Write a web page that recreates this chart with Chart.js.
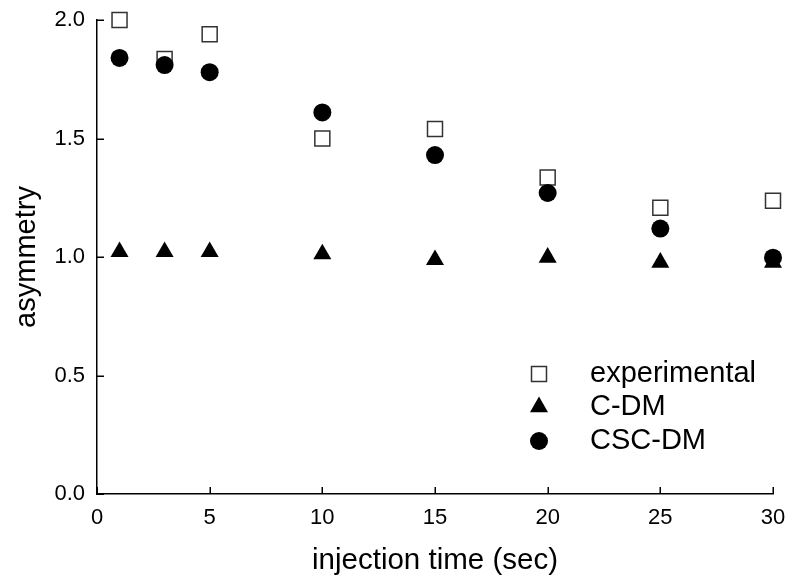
<!DOCTYPE html>
<html>
<head>
<meta charset="utf-8">
<script src="https://cdn.jsdelivr.net/npm/chart.js@4.4.1/dist/chart.umd.min.js"></script>
<style>
html,body{margin:0;padding:0;background:#fff;}
canvas{display:block;}
</style>
</head>
<body>
<canvas id="c" width="787" height="581"></canvas>
<script>
const injectionTimes = [1, 3, 5, 10, 15, 20, 25, 30];
const experimental = [2.00, 1.835, 1.94, 1.50, 1.54, 1.335, 1.208, 1.237];
const cdm = [1.022, 1.022, 1.022, 1.012, 0.988, 0.998, 0.977, 0.977];
const cscdm = [1.84, 1.81, 1.78, 1.61, 1.43, 1.27, 1.12, 0.997];
const xTicks = [0, 5, 10, 15, 20, 25, 30];
const yTicks = [0.0, 0.5, 1.0, 1.5, 2.0];
const seriesNames = ['experimental', 'C-DM', 'CSC-DM'];

const FONT = '"Liberation Sans", Arial, sans-serif';
const toPts = arr => arr.map((v, i) => ({x: injectionTimes[i], y: v}));

const styles = [
  {pointStyle: 'rect', radius: 10.6, bg: '#ffffff', border: '#333333', bw: 1.5},
  {pointStyle: 'triangle', radius: 10.4, bg: '#000000', border: '#000000', bw: 0},
  {pointStyle: 'circle', radius: 9, bg: '#000000', border: '#000000', bw: 0}
];
const seriesData = [experimental, cdm, cscdm];
const orders = [1, 2, 0];

const datasets = seriesData.map((d, i) => ({
  label: seriesNames[i],
  data: toPts(d),
  showLine: false,
  pointStyle: styles[i].pointStyle,
  pointRadius: styles[i].radius,
  pointHoverRadius: styles[i].radius,
  pointBackgroundColor: styles[i].bg,
  pointBorderColor: styles[i].border,
  pointBorderWidth: styles[i].bw,
  clip: false,
  order: orders[i]
}));

const inwardTicks = {
  id: 'inwardTicks',
  afterDraw(chart) {
    const ctx = chart.ctx;
    const xs = chart.scales.x, ys = chart.scales.y;
    const a = chart.chartArea;
    ctx.save();
    ctx.strokeStyle = '#000';
    ctx.lineWidth = 1.5;
    ctx.beginPath();
    yTicks.forEach(v => {
      const py = Math.round(ys.getPixelForValue(v)) + 0.25;
      ctx.moveTo(a.left, py);
      ctx.lineTo(a.left + 7, py);
    });
    xTicks.forEach(v => {
      const px = Math.round(xs.getPixelForValue(v)) + 0.25;
      ctx.moveTo(px, a.bottom);
      ctx.lineTo(px, a.bottom - 7);
    });
    ctx.stroke();
    ctx.restore();
  }
};

const customLegend = {
  id: 'customLegend',
  afterDraw(chart) {
    const ctx = chart.ctx;
    const a = chart.chartArea;
    const markerX = a.left + 442;
    const textX = a.left + 493;
    const rowsY = [a.top + 354, a.top + 387, a.top + 421];
    ctx.save();
    seriesNames.forEach((name, i) => {
      const s = styles[i];
      ctx.fillStyle = s.bg;
      ctx.strokeStyle = s.border;
      ctx.lineWidth = s.bw;
      Chart.helpers.drawPoint(ctx, {pointStyle: s.pointStyle, radius: s.radius, rotation: 0, borderWidth: s.bw}, markerX, rowsY[i]);
      ctx.fillStyle = '#000';
      ctx.font = '29px ' + FONT;
      ctx.textAlign = 'left';
      ctx.textBaseline = 'middle';
      ctx.fillText(name, textX, rowsY[i]);
    });
    ctx.restore();
  }
};

const noPad = s => { s.paddingTop = 0; s.paddingBottom = 0; s.paddingLeft = 0; s.paddingRight = 0; };

new Chart(document.getElementById('c'), {
  type: 'scatter',
  data: {datasets},
  plugins: [inwardTicks, customLegend],
  options: {
    responsive: false,
    animation: false,
    events: [],
    layout: {padding: {top: 20, right: 14, left: 0, bottom: 0}},
    plugins: {legend: {display: false}, tooltip: {enabled: false}},
    scales: {
      x: {
        type: 'linear',
        min: 0, max: 30,
        afterBuildTicks: s => { s.ticks = xTicks.map(v => ({value: v})); },
        afterFit: s => { s.height = 87; noPad(s); },
        grid: {display: false, drawTicks: false},
        border: {display: true, color: '#000', width: 1.5},
        ticks: {color: '#000', font: {family: FONT, size: 22}, padding: 11, maxRotation: 0,
                callback: v => String(v)},
        title: {display: true, text: 'injection time (sec)', color: '#000',
                font: {family: FONT, size: 29.5}, padding: {top: 0, bottom: 2}}
      },
      y: {
        type: 'linear',
        min: 0, max: 2,
        afterBuildTicks: s => { s.ticks = yTicks.map(v => ({value: v})); },
        afterFit: s => { s.width = 97; noPad(s); },
        grid: {display: false, drawTicks: false},
        border: {display: true, color: '#000', width: 1.5},
        ticks: {color: '#000', font: {family: FONT, size: 22}, padding: 12,
                callback: v => Number(v).toFixed(1)},
        title: {display: true, text: 'asymmetry', color: '#000',
                font: {family: FONT, size: 29}, padding: {top: 10, bottom: 0}}
      }
    }
  }
});
</script>
</body>
</html>
